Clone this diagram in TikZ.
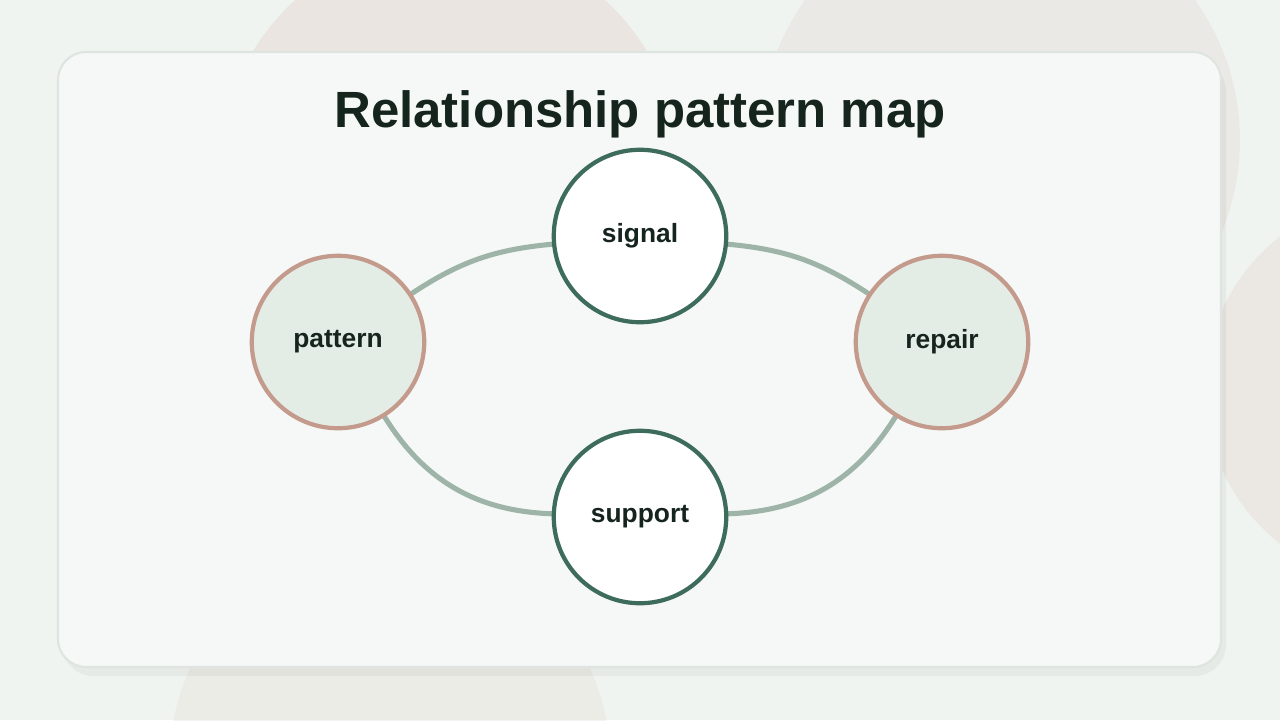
\documentclass[tikz,border=0pt]{standalone}
\usepackage{fontspec}
\setmainfont{Liberation Sans}
\usepackage{xcolor}
\usetikzlibrary{positioning,calc,backgrounds}
\pgfdeclarelayer{links}
\pgfsetlayers{background,links,main}
\definecolor{PageBg}{RGB}{240,244,241}
\definecolor{CardBg}{RGB}{245,248,246}
\definecolor{CardLine}{RGB}{222,228,224}
\definecolor{DeepGreen}{RGB}{62,108,92}
\definecolor{Rose}{RGB}{196,154,140}
\definecolor{Mint}{RGB}{227,237,230}
\definecolor{LinkGray}{RGB}{158,180,168}
\definecolor{InkDark}{RGB}{22,36,30}
\definecolor{Blush}{RGB}{232,224,218}
\tikzset{
    hubnode/.style={circle, draw=DeepGreen, fill=white, line width=2.4pt, minimum size=3.45cm, inner sep=0pt, font=\bfseries\fontsize{15}{18}\selectfont, text=InkDark},
    sidenode/.style={circle, draw=Rose, fill=Mint, line width=2.4pt, minimum size=3.45cm, inner sep=0pt, font=\bfseries\fontsize{15}{18}\selectfont, text=InkDark},
    link/.style={draw=LinkGray, line width=2.9pt, line cap=round}
}
\begin{document}
\begin{tikzpicture}[x=0.02cm, y=-0.02cm]
        \useasboundingbox (0,0) rectangle (1280,720);

        % --- NỀN ---
        \begin{pgfonlayer}{background}
        \begin{scope}
        \clip (0,0) rectangle (1280,720);
        \fill[PageBg] (0,0) rectangle (1280,720);
        \fill[Blush, opacity=0.7] (450,170) circle (230);
        \fill[Blush, opacity=0.5] (1000,140) circle (240);
        \fill[Blush, opacity=0.6] (1400,390) circle (195);
        \fill[Blush, opacity=0.4] (390,760) circle (220);
        \end{scope}

        % --- THẺ ---
        \fill[black, opacity=0.04, rounded corners=18pt] (62,60) rectangle (1226,676);
        \draw[CardLine, fill=CardBg, line width=1.2pt, rounded corners=16pt] (58,52) rectangle (1221,667);
        \end{pgfonlayer}

        % Tiêu đề
        \node[font=\bfseries\fontsize{29}{34}\selectfont, text=InkDark] (title) at (640,114) {Relationship pattern map};

        % --- CÁC NÚT ---
        \node[hubnode] (signal) at (640,236) {signal};
        \node[sidenode] (pattern) at (338,342) {pattern};
        \node[sidenode] (repair) at (942,342) {repair};
        \node[hubnode] (support) at (640,517) {support};

        % --- ĐƯỜNG NỐI ---
        \begin{pgfonlayer}{links}
        \draw[link] (pattern) to[bend left=14] (signal);
        \draw[link] (signal) to[bend left=14] (repair);
        \draw[link] (pattern) to[bend right=28] (support);
        \draw[link] (support) to[bend right=28] (repair);
        \end{pgfonlayer}

    \end{tikzpicture}
\end{document}
